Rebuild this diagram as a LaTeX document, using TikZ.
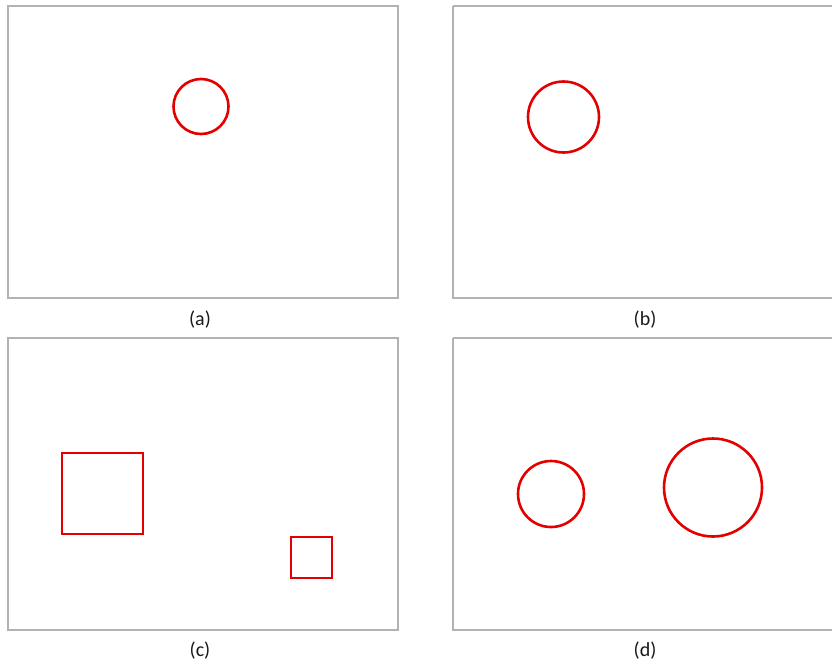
\documentclass[tikz,border=0pt]{standalone}
\usepackage{fontspec}
\setmainfont{Carlito}
\begin{document}
\begin{tikzpicture}[x=1pt,y=-1pt,
  panel/.style={draw=black!30,line width=1.1pt},
  shp/.style={draw=red!90!black,line width=2.6pt},
  lab/.style={font=\fontsize{20}{22}\selectfont,text=black!90}]
\useasboundingbox (0,0) rectangle (832,665);
% panels
\draw[panel] (8,6) rectangle (398,298);
\draw[panel] (453,6) -- (833,6);
\draw[panel] (453,6) -- (453,298) -- (833,298);
\draw[panel] (8,338) rectangle (398,630);
\draw[panel] (453,338) -- (833,338);
\draw[panel] (453,338) -- (453,630) -- (833,630);
% labels
\node[lab] (la) at (200,320) {(a)};
\node[lab] (lb) at (645,320) {(b)};
\node[lab] (lc) at (200,651) {(c)};
\node[lab] (ld) at (645,651) {(d)};
% shapes
\draw[shp] (201,106.5) circle (27.5);
\draw[shp] (563.5,117) circle (35.5);
\draw[shp] (62,453) rectangle (143,534);
\draw[shp] (291,537) rectangle (332,578);
\draw[shp] (551,494) circle (33);
\draw[shp] (713,487.5) circle (49);
\end{tikzpicture}
\end{document}
